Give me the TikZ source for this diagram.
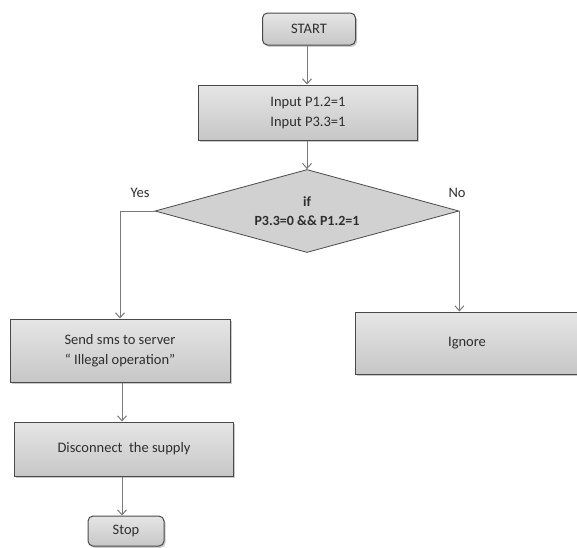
\documentclass[tikz,border=0pt]{standalone}
\usepackage{fontspec}
\setmainfont{Carlito}
\usetikzlibrary{shapes.geometric,shadows,arrows.meta}
\definecolor{edgegray}{HTML}{4A4A4A}
\definecolor{linegray}{HTML}{7A7A7A}
\definecolor{txtgray}{HTML}{2E2E2E}
\tikzset{
  boxbase/.style={draw=edgegray, line width=1pt, top color=white!90!black, bottom color=white!78!black,
    text=txtgray, align=center, inner sep=0pt, font=\fontsize{14.5}{20}\selectfont,
    drop shadow={shadow xshift=1.5pt, shadow yshift=-1.8pt, opacity=0.35, fill=black!60}},
  termbox/.style={boxbase, rounded corners=5pt},
  procbox/.style={boxbase},
  decbox/.style={diamond, aspect=3.66, draw=edgegray, line width=0.8pt, fill=white!82!black, text=txtgray,
    align=center, inner sep=0pt, font=\fontsize{14}{19}\selectfont\bfseries},
  conn/.style={draw=linegray, line width=1pt, -{Straight Barb[length=5pt,width=9pt,line width=1pt]}},
  lbl/.style={text=txtgray, font=\fontsize{14.5}{18}\selectfont, inner sep=0pt}
}
\begin{document}
\begin{tikzpicture}[x=1pt,y=-1pt]
\useasboundingbox (0,0) rectangle (577,547);
\clip (0,0) rectangle (577,547);
\node[termbox, minimum width=93pt, minimum height=32pt] (start) at (309,29) {START};
\node[procbox, minimum width=219pt, minimum height=55pt] (input) at (308,112.5) {Input P1.2=1\\Input P3.3=1};
\node[decbox, minimum width=304pt, minimum height=83pt] (dec) at (307,211) {if\\P3.3=0 \&\& P1.2=1};
\node[procbox, minimum width=220pt, minimum height=63pt] (send) at (120,350.5) {Send sms to server\\“ Illegal operation”};
\node[procbox, minimum width=224pt, minimum height=62pt] (ignore) at (467,343) {Ignore};
\node[procbox, minimum width=219pt, minimum height=54pt] (disc) at (124,449) {Disconnect\ \ the supply};
\node[termbox, minimum width=76pt, minimum height=30pt] (stop) at (126,531) {Stop};
\node[lbl] (yes) at (140,193) {Yes};
\node[lbl] (no) at (457,193) {No};
\coordinate (ycorner) at (send.north |- dec.west);
\draw[conn] (start.south -| 307,0) -- (input.north -| 307,0);
\draw[conn] (input.south -| dec.north) -- (dec.north);
\draw[conn] (dec.west) -- (ycorner) -- (send.north);
\draw[conn] (dec.east) -- (dec.east |- ignore.north);
\draw[conn] (send.south -| 122,0) -- (disc.north -| 122,0);
\draw[conn] (disc.south -| 122,0) -- (stop.north -| 122,0);
\end{tikzpicture}
\end{document}
